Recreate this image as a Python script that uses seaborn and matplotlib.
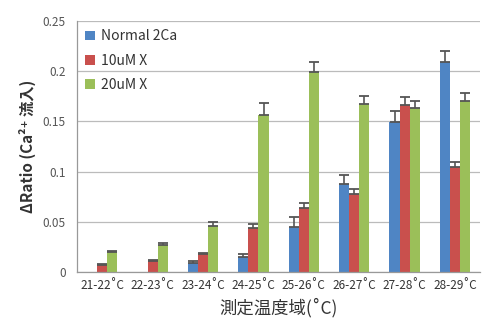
import pandas as pd
import numpy as np
import matplotlib
matplotlib.use("Agg")
import matplotlib.pyplot as plt
import seaborn as sns

# Datos
temp_ranges = ["21-22˚C", "22-23˚C", "23-24˚C", "24-25˚C",
               "25-26˚C", "26-27˚C", "27-28˚C", "28-29˚C"]
series_names = ["Normal 2Ca", "10uM X", "20uM X"]
normal_2ca = [0.0, 0.0, 0.009, 0.015, 0.045, 0.088, 0.149, 0.209]
uM10_x = [0.007, 0.011, 0.018, 0.044, 0.064, 0.078, 0.166, 0.104]
uM20_x = [0.020, 0.027, 0.046, 0.156, 0.199, 0.167, 0.163, 0.170]
err_normal = [0.0, 0.0, 0.002, 0.003, 0.010, 0.009, 0.011, 0.011]
err_10 = [0.001, 0.001, 0.001, 0.004, 0.005, 0.005, 0.008, 0.005]
err_20 = [0.001, 0.002, 0.004, 0.012, 0.010, 0.008, 0.007, 0.008]
colors = ["#4F85C4", "#C9504D", "#9BBF59"]

df = pd.DataFrame({
    "temp": temp_ranges * 3,
    "serie": np.repeat(series_names, len(temp_ranges)),
    "valor": normal_2ca + uM10_x + uM20_x,
})
errores = [err_normal, err_10, err_20]

sns.set_style("white")
plt.rcParams['font.family'] = ['Noto Sans CJK JP', 'DejaVu Sans']

fig = plt.figure(figsize=(4.88, 3.32), dpi=100)
ax = fig.add_axes([0.158, 0.181, 0.826, 0.756])

sns.barplot(data=df, x="temp", y="valor", hue="serie", palette=colors,
            width=0.6, errorbar=None, ax=ax, zorder=2, saturation=1,
            edgecolor="none")

# Barras de error (solo hacia arriba)
for cont, errs in zip(ax.containers, errores):
    for bar, e in zip(cont, errs):
        if e <= 0:
            continue
        xc = bar.get_x() + bar.get_width() / 2
        ax.errorbar(xc, bar.get_height(), yerr=[[0], [e]], fmt="none",
                    ecolor="#555555", elinewidth=1.2, capsize=3.5,
                    capthick=1.3, zorder=3)

ax.set_ylim(0, 0.25)
ax.set_xlim(-0.5, len(temp_ranges) - 0.5)
ax.set_yticks([0, 0.05, 0.1, 0.15, 0.2, 0.25])
ax.set_yticklabels(["0", "0.05", "0.1", "0.15", "0.2", "0.25"])
ax.yaxis.grid(True, color="#BBBBBB", linewidth=0.9, zorder=0)
ax.set_axisbelow(True)

for s in ["top", "right"]:
    ax.spines[s].set_visible(False)
for s in ["left", "bottom"]:
    ax.spines[s].set_color("#999999")
    ax.spines[s].set_linewidth(0.9)

ax.tick_params(axis="y", labelsize=8.5, colors="#555555", length=0, pad=8)
ax.tick_params(axis="x", labelsize=8.5, colors="#333333", length=0, pad=5)
ax.set_xticks(np.arange(-0.5, len(temp_ranges)), minor=True)
ax.tick_params(axis="x", which="minor", length=3, color="#BBBBBB")

ax.set_xlabel("測定温度域(˚C)", fontsize=12.5, color="#333333", labelpad=4)
ax.set_ylabel("ΔRatio (Ca²⁺ 流入)", fontsize=11, fontweight="bold",
              color="#333333", labelpad=5)

leg = ax.legend(loc="upper left", frameon=False, fontsize=10,
                handlelength=0.7, handleheight=0.7, handletextpad=0.4,
                labelspacing=0.75, borderaxespad=0.2, title=None)
for t in leg.get_texts():
    t.set_color("#333333")

fig.savefig("out.png", dpi=100)
